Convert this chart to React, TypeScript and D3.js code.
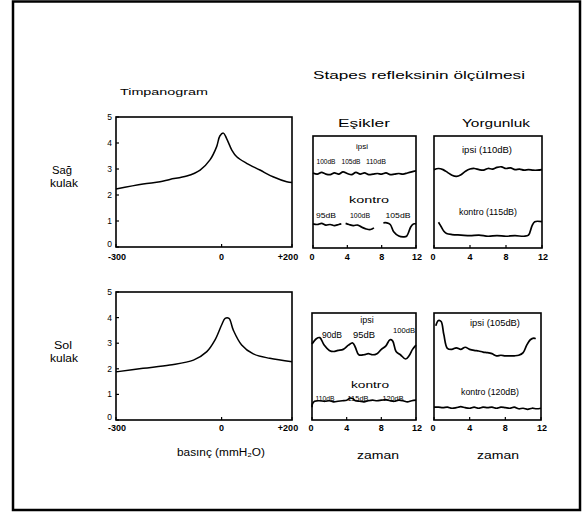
import React from 'react';
import * as d3 from 'd3';

// ---- Tick values / labels ----
const tympYTicks = [0, 1, 2, 3, 4, 5];
const tympXTicks = [-300, 0, 200];
const tympXTickLabels = ['-300', '0', '+200'];
const timeTicks = [0, 4, 8, 12];

// ---- Tympanogram, Sağ kulak (pressure mmH2O, compliance) ----
const sagTympP = [-300, -223, -175, -147, -99, -61, -33, -14, -5, 5, 14, 29, 43, 71, 109, 146, 185, 200];
const sagTympC = [2.23, 2.42, 2.51, 2.6, 2.73, 2.96, 3.35, 3.86, 4.27, 4.38, 4.18, 3.73, 3.47, 3.22, 2.96, 2.7, 2.51, 2.48];

// ---- Tympanogram, Sol kulak ----
const solTympP = [-300, -223, -147, -80, -42, -19, 0, 10, 21, 33, 57, 90, 137, 200];
const solTympC = [1.88, 2.02, 2.15, 2.34, 2.67, 3.12, 3.71, 3.97, 3.97, 3.52, 2.93, 2.58, 2.41, 2.28];

// ---- Stapes reflex, relative units 0-100 ----
// Sağ, Eşikler, ipsi
const sagEsikIpsiT = [0, 0.5, 1, 1.5, 2, 2.5, 3, 3.5, 4, 4.5, 5, 5.5, 6, 6.5, 7, 7.5, 8, 8.5, 9, 9.5, 10, 10.5, 11, 11.5, 12];
const sagEsikIpsiV = [67, 66, 67.5, 66, 65.5, 67, 66, 68, 66.5, 65.5, 67.5, 66, 67, 65.5, 66, 66.5, 66, 67, 65.5, 66, 66.5, 66, 67, 68, 69];
// Sağ, Eşikler, kontro (three segments)
const sagEsikKontro1T = [0, 0.5, 1, 1.5, 2, 2.5, 3, 3.3];
const sagEsikKontro1V = [21.5, 21, 22, 20.5, 21, 20, 21, 21.5];
const sagEsikKontro2T = [3.8, 4.2, 4.7, 5.2, 5.7, 6.2, 6.7, 7.1];
const sagEsikKontro2V = [22, 21, 20, 20.5, 18.5, 17, 16.5, 18];
const sagEsikKontro3T = [8.2, 8.6, 9.0, 9.4, 10, 10.5, 10.9, 11.4, 11.7, 12];
const sagEsikKontro3V = [22.5, 22.5, 21, 14.5, 10.7, 10, 10.5, 19, 21.5, 21.5];
// Sağ, Yorgunluk
const sagYorgIpsiT = [0, 0.5, 1, 1.5, 2, 2.5, 3, 3.5, 4, 4.5, 5, 5.5, 6, 6.5, 7, 7.5, 8, 8.5, 9, 9.5, 10, 10.5, 11, 11.5, 12];
const sagYorgIpsiV = [70, 71, 70, 67.5, 65, 64, 65.5, 68.5, 70.5, 71, 70, 69.5, 71, 70.5, 72, 72.5, 71, 71.5, 70, 70.5, 69.5, 70, 69.5, 69.5, 70];
const sagYorgKontroT = [0.5, 0.8, 1.1, 1.4, 2, 3, 4, 5, 6, 7, 8, 9, 10, 10.5, 10.9, 11.2, 12];
const sagYorgKontroV = [23, 19, 15, 13, 12, 11.5, 11, 11.5, 10.5, 11, 10.5, 11, 10.5, 11.5, 20, 23.5, 23.5];

// Sol, Eşikler
const solEsikIpsiT = [0, 0.5, 0.9, 1.4, 2.0, 2.5, 3.0, 3.6, 4.2, 4.7, 5.0, 5.4, 6.0, 6.5, 7.0, 7.5, 8.0, 8.5, 9.0, 9.3, 9.7, 10.2, 10.8, 11.2, 11.6, 12];
const solEsikIpsiV = [71, 76, 77, 70, 65, 64, 65, 66, 70, 72, 68, 61, 61, 62, 61, 62, 66, 69, 75, 74, 64, 61, 57, 60, 66, 70];
const solEsikKontroT = [0, 0.05, 0.3, 0.8, 1.5, 2, 2.5, 3, 3.5, 4, 4.4, 4.7, 5, 5.5, 6, 6.5, 7, 7.5, 8, 8.5, 9, 9.5, 10, 10.5, 11, 11.5, 12];
const solEsikKontroV = [12, 15, 17.5, 18, 17.5, 18, 17, 17.5, 18, 18.5, 20.5, 20, 18, 17.5, 17, 18, 18.5, 18, 18.5, 19, 18, 17.5, 18.5, 18, 17, 18, 18.5];
// Sol, Yorgunluk
const solYorgIpsiT = [0.2, 0.5, 0.8, 1.1, 1.5, 2, 2.5, 3, 3.5, 4, 4.5, 5, 5.5, 6, 6.5, 7, 7.5, 8, 8.5, 9, 9.5, 10, 10.4, 10.8, 11.2, 11.4];
const solYorgIpsiV = [88, 93, 92, 80, 67, 66, 67.5, 66, 68, 66, 65, 64.5, 63.5, 63, 62, 60, 60.5, 60, 60, 60, 60.5, 63, 70, 75, 76.5, 76];
const solYorgKontroT = [0, 0.5, 1, 1.5, 2, 2.5, 3, 3.5, 4, 4.5, 5, 5.5, 6, 6.5, 7, 7.5, 8, 8.5, 9, 9.5, 10, 10.5, 11, 11.5, 12];
const solYorgKontroV = [12, 12, 11.5, 12, 11, 11.5, 12.5, 11.5, 11, 12, 11, 12, 11.5, 12, 11, 12, 11.5, 11, 12, 10.5, 11, 10, 11, 10.5, 11];

const FONT = '"Liberation Sans", Arial, sans-serif';

type Box = { x0: number; x1: number; y0: number; y1: number };

function zip(a: number[], b: number[]): [number, number][] {
  return a.map((v, i) => [v, b[i]]);
}

function Tymp({ box, p, c, labelY }: { box: Box; p: number[]; c: number[]; labelY: number }) {
  const x = d3.scaleLinear().domain([-300, 200]).range([box.x0, box.x1]);
  const y = d3.scaleLinear().domain([0, 5]).range([box.y1, box.y0]);
  const line = d3.line<[number, number]>().x(d => x(d[0])).y(d => y(d[1])).curve(d3.curveCatmullRom.alpha(0.5));
  return (
    <g>
      <rect x={box.x0} y={box.y0} width={box.x1 - box.x0} height={box.y1 - box.y0} fill="none" stroke="#000" strokeWidth={1.6} />
      {tympYTicks.map(t => (
        <g key={t}>
          <line x1={box.x0} x2={box.x0 + 3} y1={y(t)} y2={y(t)} stroke="#000" strokeWidth={1.2} />
          <text x={box.x0 - 4} y={y(t) - (t === 0 ? 3 : 0)} dy="0.35em" textAnchor="end" fontSize={8.5} fontFamily={FONT}>{t}</text>
        </g>
      ))}
      {tympXTicks.map((t, i) => (
        <g key={t}>
          <line x1={x(t)} x2={x(t)} y1={box.y1} y2={box.y1 - 3} stroke="#000" strokeWidth={1.2} />
          <text x={x(t) + (i === 0 ? 1 : i === 2 ? -4 : 0)} y={labelY} dy="0.35em" textAnchor="middle" fontSize={9} fontWeight="bold" fontFamily={FONT}>{tympXTickLabels[i]}</text>
        </g>
      ))}
      <path d={line(zip(p, c)) || ''} fill="none" stroke="#000" strokeWidth={1.5} />
    </g>
  );
}

function Reflex({ box, series, labelY, children }: { box: Box; series: [number[], number[]][]; labelY: number; children?: React.ReactNode }) {
  const x = d3.scaleLinear().domain([0, 12]).range([box.x0, box.x1]);
  const y = d3.scaleLinear().domain([0, 100]).range([box.y1, box.y0]);
  const line = d3.line<[number, number]>().x(d => x(d[0])).y(d => y(d[1])).curve(d3.curveCatmullRom.alpha(0.5));
  return (
    <g>
      <rect x={box.x0} y={box.y0} width={box.x1 - box.x0} height={box.y1 - box.y0} fill="none" stroke="#000" strokeWidth={1.6} />
      {timeTicks.map(t => (
        <g key={t}>
          <line x1={x(t)} x2={x(t)} y1={box.y1} y2={box.y1 - 3} stroke="#000" strokeWidth={1.2} />
          <text x={x(t) + (t === 0 ? -1 : t === 12 ? 1 : 0)} y={labelY} dy="0.35em" textAnchor="middle" fontSize={9} fontWeight="bold" fontFamily={FONT}>{t}</text>
        </g>
      ))}
      {series.map((s, i) => (
        <path key={i} d={line(zip(s[0], s[1])) || ''} fill="none" stroke="#000" strokeWidth={1.7} />
      ))}
      {children}
    </g>
  );
}

function T({ x, y, s, size = 8, len, anchor = 'middle', weight = 'normal' }: { x: number; y: number; s: string; size?: number; len?: number; anchor?: string; weight?: string }) {
  return (
    <text x={x} y={y} dy="0.35em" textAnchor={anchor as any} fontSize={size} fontWeight={weight} fontFamily={FONT}
      {...(len ? { textLength: len, lengthAdjust: 'spacingAndGlyphs' } : {})}>{s}</text>
  );
}

export default function App() {
  const W = 583, H = 521;
  const tympTop: Box = { x0: 116, x1: 292, y0: 117, y1: 247 };
  const tympBot: Box = { x0: 116, x1: 292, y0: 292, y1: 420 };
  const esikTop: Box = { x0: 313, x1: 416, y0: 136, y1: 248 };
  const yorgTop: Box = { x0: 434, x1: 542, y0: 136, y1: 248 };
  const esikBot: Box = { x0: 312, x1: 416, y0: 313, y1: 420 };
  const yorgBot: Box = { x0: 434, x1: 541, y0: 313, y1: 420 };

  return (
    <div style={{ position: 'absolute', left: 0, top: 0 }}>
      <svg width={W} height={H} style={{ display: 'block', background: '#fff' }}>
        <rect x={13} y={1.5} width={567} height={508.5} fill="none" stroke="#000" strokeWidth={2.5} />

        <T x={164} y={92} s="Timpanogram" size={9.5} len={88} />
        <T x={419} y={75} s="Stapes refleksinin ölçülmesi" size={11} len={212} />
        <T x={364} y={123} s="Eşikler" size={11} len={52} />
        <T x={496} y={123} s="Yorgunluk" size={11} len={68} />

        <T x={52} y={170} s="Sağ" size={10} anchor="start" len={20} />
        <T x={50} y={183} s="kulak" size={10} anchor="start" len={28} />
        <T x={54} y={345} s="Sol" size={10} anchor="start" len={18} />
        <T x={50} y={358} s="kulak" size={10} anchor="start" len={28} />

        <Tymp box={tympTop} p={sagTympP} c={sagTympC} labelY={257} />
        <Tymp box={tympBot} p={solTympP} c={solTympC} labelY={428} />

        <Reflex box={esikTop} labelY={257} series={[
          [sagEsikIpsiT, sagEsikIpsiV],
          [sagEsikKontro1T, sagEsikKontro1V],
          [sagEsikKontro2T, sagEsikKontro2V],
          [sagEsikKontro3T, sagEsikKontro3V],
        ]}>
          <T x={362} y={146} s="ipsi" size={8} />
          <T x={326} y={161} s="100dB" size={8} len={19} />
          <T x={351} y={161} s="105dB" size={8} len={19} />
          <T x={376} y={161} s="110dB" size={8} len={20} />
          <T x={369} y={200} s="kontro" size={9.5} len={40} />
          <T x={326} y={215} s="95dB" size={8} len={20} />
          <T x={360} y={215} s="100dB" size={8} len={20} />
          <T x={398} y={215} s="105dB" size={8} len={25} />
        </Reflex>

        <Reflex box={yorgTop} labelY={257} series={[
          [sagYorgIpsiT, sagYorgIpsiV],
          [sagYorgKontroT, sagYorgKontroV],
        ]}>
          <T x={487} y={150} s="ipsi (110dB)" size={9} len={50} />
          <T x={488} y={212} s="kontro (115dB)" size={9} len={58} />
        </Reflex>

        <Reflex box={esikBot} labelY={428} series={[
          [solEsikIpsiT, solEsikIpsiV],
          [solEsikKontroT, solEsikKontroV],
        ]}>
          <T x={367} y={320} s="ipsi" size={9} />
          <T x={332} y={335} s="90dB" size={8.5} len={20} />
          <T x={364} y={335} s="95dB" size={8.5} len={22} />
          <T x={404} y={330} s="100dB" size={7.5} len={22} />
          <T x={370} y={385} s="kontro" size={9.5} len={38} />
          <T x={325} y={398} s="110dB" size={8} len={19} />
          <T x={358} y={398} s="115dB" size={8} len={21} />
          <T x={393} y={398} s="120dB" size={8} len={21} />
        </Reflex>

        <Reflex box={yorgBot} labelY={428} series={[
          [solYorgIpsiT, solYorgIpsiV],
          [solYorgKontroT, solYorgKontroV],
        ]}>
          <T x={495} y={323} s="ipsi (105dB)" size={9} len={50} />
          <T x={490} y={392} s="kontro (120dB)" size={9} len={58} />
        </Reflex>

        <T x={221} y={452} s="basınç (mmH₂O)" size={10} len={88} />
        <T x={378} y={455} s="zaman" size={10} len={42} />
        <T x={498} y={455} s="zaman" size={10} len={42} />
      </svg>
    </div>
  );
}
